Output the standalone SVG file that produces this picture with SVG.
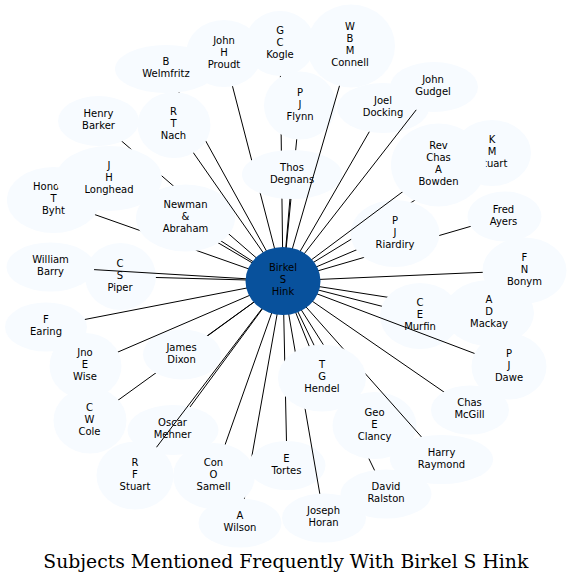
<svg xmlns="http://www.w3.org/2000/svg" width="571" height="584" viewBox="0 0 571 584">
<style>
.nb{fill:#f7fbff}
.cb{fill:#08519c}
.t{font-family:"DejaVu Sans",sans-serif;font-size:10px;fill:#000;text-anchor:middle}
.e{stroke:#000;stroke-width:1;fill:none}
.title{font-family:"DejaVu Serif",serif;font-size:18.5px;fill:#000;text-anchor:middle}
</style>
<defs>
<ellipse id="s-center" cx="283" cy="281" rx="37.5" ry="34"/>
<ellipse id="s-welm" cx="166" cy="69" rx="51" ry="24"/>
<ellipse id="s-proudt" cx="224" cy="53.5" rx="38" ry="33.5"/>
<ellipse id="s-kogle" cx="280" cy="43.5" rx="35" ry="32.5"/>
<ellipse id="s-connell" cx="351" cy="46" rx="44" ry="41.5"/>
<ellipse id="s-flynn" cx="300" cy="105.5" rx="36" ry="34"/>
<ellipse id="s-docking" cx="383" cy="108" rx="46" ry="25"/>
<ellipse id="s-gudgel" cx="434" cy="87" rx="44" ry="25"/>
<ellipse id="s-barker" cx="98.5" cy="121" rx="40.5" ry="25"/>
<ellipse id="s-nach" cx="174" cy="125" rx="36.5" ry="33"/>
<ellipse id="s-degnans" cx="292" cy="174.5" rx="50" ry="24.5"/>
<ellipse id="s-bowden" cx="438.5" cy="165" rx="47.5" ry="41.5"/>
<ellipse id="s-kmstuart" cx="492" cy="153" rx="39" ry="33"/>
<ellipse id="s-longhead" cx="109" cy="178.5" rx="53" ry="32.5"/>
<ellipse id="s-byht" cx="53.5" cy="200" rx="46.5" ry="33"/>
<ellipse id="s-newman" cx="185.5" cy="218" rx="49.5" ry="33.5"/>
<ellipse id="s-riardiry" cx="395" cy="233.5" rx="44.5" ry="33.5"/>
<ellipse id="s-ayers" cx="504.5" cy="216.5" rx="37" ry="25"/>
<ellipse id="s-wbarry" cx="50.5" cy="267" rx="44" ry="24.5"/>
<ellipse id="s-piper" cx="120.5" cy="276.5" rx="35.5" ry="33.5"/>
<ellipse id="s-bonym" cx="524.5" cy="270.5" rx="42" ry="33"/>
<ellipse id="s-earing" cx="46" cy="327" rx="41" ry="24.5"/>
<ellipse id="s-murfin" cx="420" cy="316" rx="40" ry="33"/>
<ellipse id="s-mackay" cx="489" cy="313" rx="45" ry="33"/>
<ellipse id="s-dixon" cx="182" cy="354.5" rx="39" ry="25"/>
<ellipse id="s-wise" cx="85.5" cy="366" rx="36" ry="33"/>
<ellipse id="s-hendel" cx="322" cy="378" rx="44" ry="33.5"/>
<ellipse id="s-dawe" cx="509" cy="366.5" rx="37.5" ry="33"/>
<ellipse id="s-cole" cx="90" cy="420.5" rx="36.5" ry="33"/>
<ellipse id="s-oscar" cx="173" cy="430" rx="45.5" ry="25"/>
<ellipse id="s-clancy" cx="374.5" cy="425.5" rx="42" ry="33.5"/>
<ellipse id="s-mcgill" cx="470" cy="410" rx="39" ry="24.5"/>
<ellipse id="s-rfstuart" cx="135" cy="475.5" rx="38.5" ry="34"/>
<ellipse id="s-samell" cx="214" cy="476" rx="41" ry="33"/>
<ellipse id="s-tortes" cx="287" cy="465.5" rx="38.5" ry="24.5"/>
<ellipse id="s-raymond" cx="441.5" cy="459.5" rx="51.5" ry="24.5"/>
<ellipse id="s-ralston" cx="386" cy="494" rx="45.5" ry="24.5"/>
<ellipse id="s-wilson" cx="240" cy="523" rx="41.5" ry="24.5"/>
<ellipse id="s-horan" cx="324" cy="518" rx="42" ry="24.5"/>

<mask id="m-welm" maskUnits="userSpaceOnUse" x="0" y="0" width="571" height="584"><rect width="571" height="584" fill="#fff"/><use href="#s-welm" fill="#000"/><use href="#s-nach" fill="#000"/></mask>
<mask id="m-proudt" maskUnits="userSpaceOnUse" x="0" y="0" width="571" height="584"><rect width="571" height="584" fill="#fff"/><use href="#s-proudt" fill="#000"/><use href="#s-degnans" fill="#000"/></mask>
<mask id="m-kogle" maskUnits="userSpaceOnUse" x="0" y="0" width="571" height="584"><rect width="571" height="584" fill="#fff"/><use href="#s-kogle" fill="#000"/><use href="#s-flynn" fill="#000"/><use href="#s-degnans" fill="#000"/></mask>
<mask id="m-connell" maskUnits="userSpaceOnUse" x="0" y="0" width="571" height="584"><rect width="571" height="584" fill="#fff"/><use href="#s-connell" fill="#000"/></mask>
<mask id="m-flynn" maskUnits="userSpaceOnUse" x="0" y="0" width="571" height="584"><rect width="571" height="584" fill="#fff"/><use href="#s-flynn" fill="#000"/><use href="#s-degnans" fill="#000"/></mask>
<mask id="m-degnans" maskUnits="userSpaceOnUse" x="0" y="0" width="571" height="584"><rect width="571" height="584" fill="#fff"/><use href="#s-degnans" fill="#000"/></mask>
<mask id="m-docking" maskUnits="userSpaceOnUse" x="0" y="0" width="571" height="584"><rect width="571" height="584" fill="#fff"/><use href="#s-docking" fill="#000"/></mask>
<mask id="m-gudgel" maskUnits="userSpaceOnUse" x="0" y="0" width="571" height="584"><rect width="571" height="584" fill="#fff"/><use href="#s-gudgel" fill="#000"/></mask>
<mask id="m-bowden" maskUnits="userSpaceOnUse" x="0" y="0" width="571" height="584"><rect width="571" height="584" fill="#fff"/><use href="#s-bowden" fill="#000"/></mask>
<mask id="m-kmstuart" maskUnits="userSpaceOnUse" x="0" y="0" width="571" height="584"><rect width="571" height="584" fill="#fff"/><use href="#s-kmstuart" fill="#000"/><use href="#s-bowden" fill="#000"/><use href="#s-riardiry" fill="#000"/></mask>
<mask id="m-ayers" maskUnits="userSpaceOnUse" x="0" y="0" width="571" height="584"><rect width="571" height="584" fill="#fff"/><use href="#s-ayers" fill="#000"/><use href="#s-riardiry" fill="#000"/></mask>
<mask id="m-riardiry" maskUnits="userSpaceOnUse" x="0" y="0" width="571" height="584"><rect width="571" height="584" fill="#fff"/><use href="#s-riardiry" fill="#000"/></mask>
<mask id="m-bonym" maskUnits="userSpaceOnUse" x="0" y="0" width="571" height="584"><rect width="571" height="584" fill="#fff"/><use href="#s-bonym" fill="#000"/></mask>
<mask id="m-mackay" maskUnits="userSpaceOnUse" x="0" y="0" width="571" height="584"><rect width="571" height="584" fill="#fff"/><use href="#s-mackay" fill="#000"/><use href="#s-murfin" fill="#000"/></mask>
<mask id="m-murfin" maskUnits="userSpaceOnUse" x="0" y="0" width="571" height="584"><rect width="571" height="584" fill="#fff"/><use href="#s-murfin" fill="#000"/></mask>
<mask id="m-dawe" maskUnits="userSpaceOnUse" x="0" y="0" width="571" height="584"><rect width="571" height="584" fill="#fff"/><use href="#s-dawe" fill="#000"/></mask>
<mask id="m-mcgill" maskUnits="userSpaceOnUse" x="0" y="0" width="571" height="584"><rect width="571" height="584" fill="#fff"/><use href="#s-mcgill" fill="#000"/></mask>
<mask id="m-raymond" maskUnits="userSpaceOnUse" x="0" y="0" width="571" height="584"><rect width="571" height="584" fill="#fff"/><use href="#s-raymond" fill="#000"/><use href="#s-hendel" fill="#000"/></mask>
<mask id="m-clancy" maskUnits="userSpaceOnUse" x="0" y="0" width="571" height="584"><rect width="571" height="584" fill="#fff"/><use href="#s-clancy" fill="#000"/><use href="#s-hendel" fill="#000"/></mask>
<mask id="m-ralston" maskUnits="userSpaceOnUse" x="0" y="0" width="571" height="584"><rect width="571" height="584" fill="#fff"/><use href="#s-ralston" fill="#000"/><use href="#s-hendel" fill="#000"/><use href="#s-clancy" fill="#000"/></mask>
<mask id="m-hendel" maskUnits="userSpaceOnUse" x="0" y="0" width="571" height="584"><rect width="571" height="584" fill="#fff"/><use href="#s-hendel" fill="#000"/></mask>
<mask id="m-horan" maskUnits="userSpaceOnUse" x="0" y="0" width="571" height="584"><rect width="571" height="584" fill="#fff"/><use href="#s-horan" fill="#000"/><use href="#s-hendel" fill="#000"/></mask>
<mask id="m-tortes" maskUnits="userSpaceOnUse" x="0" y="0" width="571" height="584"><rect width="571" height="584" fill="#fff"/><use href="#s-tortes" fill="#000"/><use href="#s-hendel" fill="#000"/></mask>
<mask id="m-wilson" maskUnits="userSpaceOnUse" x="0" y="0" width="571" height="584"><rect width="571" height="584" fill="#fff"/><use href="#s-wilson" fill="#000"/><use href="#s-tortes" fill="#000"/><use href="#s-samell" fill="#000"/></mask>
<mask id="m-samell" maskUnits="userSpaceOnUse" x="0" y="0" width="571" height="584"><rect width="571" height="584" fill="#fff"/><use href="#s-samell" fill="#000"/></mask>
<mask id="m-rfstuart" maskUnits="userSpaceOnUse" x="0" y="0" width="571" height="584"><rect width="571" height="584" fill="#fff"/><use href="#s-rfstuart" fill="#000"/></mask>
<mask id="m-oscar" maskUnits="userSpaceOnUse" x="0" y="0" width="571" height="584"><rect width="571" height="584" fill="#fff"/><use href="#s-oscar" fill="#000"/></mask>
<mask id="m-cole" maskUnits="userSpaceOnUse" x="0" y="0" width="571" height="584"><rect width="571" height="584" fill="#fff"/><use href="#s-cole" fill="#000"/><use href="#s-dixon" fill="#000"/></mask>
<mask id="m-dixon" maskUnits="userSpaceOnUse" x="0" y="0" width="571" height="584"><rect width="571" height="584" fill="#fff"/><use href="#s-dixon" fill="#000"/></mask>
<mask id="m-wise" maskUnits="userSpaceOnUse" x="0" y="0" width="571" height="584"><rect width="571" height="584" fill="#fff"/><use href="#s-wise" fill="#000"/></mask>
<mask id="m-earing" maskUnits="userSpaceOnUse" x="0" y="0" width="571" height="584"><rect width="571" height="584" fill="#fff"/><use href="#s-earing" fill="#000"/></mask>
<mask id="m-piper" maskUnits="userSpaceOnUse" x="0" y="0" width="571" height="584"><rect width="571" height="584" fill="#fff"/><use href="#s-piper" fill="#000"/></mask>
<mask id="m-wbarry" maskUnits="userSpaceOnUse" x="0" y="0" width="571" height="584"><rect width="571" height="584" fill="#fff"/><use href="#s-wbarry" fill="#000"/></mask>
<mask id="m-byht" maskUnits="userSpaceOnUse" x="0" y="0" width="571" height="584"><rect width="571" height="584" fill="#fff"/><use href="#s-byht" fill="#000"/><use href="#s-newman" fill="#000"/></mask>
<mask id="m-longhead" maskUnits="userSpaceOnUse" x="0" y="0" width="571" height="584"><rect width="571" height="584" fill="#fff"/><use href="#s-longhead" fill="#000"/><use href="#s-newman" fill="#000"/></mask>
<mask id="m-newman" maskUnits="userSpaceOnUse" x="0" y="0" width="571" height="584"><rect width="571" height="584" fill="#fff"/><use href="#s-newman" fill="#000"/></mask>
<mask id="m-barker" maskUnits="userSpaceOnUse" x="0" y="0" width="571" height="584"><rect width="571" height="584" fill="#fff"/><use href="#s-barker" fill="#000"/><use href="#s-longhead" fill="#000"/><use href="#s-newman" fill="#000"/></mask>
<mask id="m-nach" maskUnits="userSpaceOnUse" x="0" y="0" width="571" height="584"><rect width="571" height="584" fill="#fff"/><use href="#s-nach" fill="#000"/></mask>
</defs>

<rect width="571" height="584" fill="#fff"/>

<g id="nodes">
<g id="n-byht"><use href="#s-byht" class="nb"/><text class="t"><tspan x="33" y="190" style="text-anchor:start">Hono</tspan><tspan x="53.5" y="202">T</tspan><tspan x="53.5" y="214">Byht</tspan></text></g>
<g id="n-barker"><use href="#s-barker" class="nb"/><text class="t"><tspan x="98.5" y="117">Henry</tspan><tspan x="98.5" y="129">Barker</tspan></text></g>
<g id="n-longhead"><use href="#s-longhead" class="nb"/><text class="t"><tspan x="109" y="168.5">J</tspan><tspan x="109" y="180.5">H</tspan><tspan x="109" y="192.5">Longhead</tspan></text></g>
<g id="n-newman"><use href="#s-newman" class="nb"/><text class="t"><tspan x="185.5" y="208">Newman</tspan><tspan x="185.5" y="220">&amp;</tspan><tspan x="185.5" y="232">Abraham</tspan></text></g>
<g id="n-welm"><use href="#s-welm" class="nb"/><text class="t"><tspan x="166" y="65">B</tspan><tspan x="166" y="77">Welmfritz</tspan></text></g>
<g id="n-nach"><use href="#s-nach" class="nb"/><text class="t"><tspan x="173.5" y="115">R</tspan><tspan x="173.5" y="127">T</tspan><tspan x="173.5" y="139">Nach</tspan></text></g>
<g id="n-kogle"><use href="#s-kogle" class="nb"/><text class="t"><tspan x="280" y="33.5">G</tspan><tspan x="280" y="45.5">C</tspan><tspan x="280" y="57.5">Kogle</tspan></text></g>
<g id="n-proudt"><use href="#s-proudt" class="nb"/><text class="t"><tspan x="224" y="43.5">John</tspan><tspan x="224" y="55.5">H</tspan><tspan x="224" y="67.5">Proudt</tspan></text></g>
<g id="n-flynn"><use href="#s-flynn" class="nb"/><text class="t"><tspan x="300" y="95.5">P</tspan><tspan x="300" y="107.5">J</tspan><tspan x="300" y="119.5">Flynn</tspan></text></g>
<g id="n-degnans"><use href="#s-degnans" class="nb"/><text class="t"><tspan x="292" y="170.5">Thos</tspan><tspan x="292" y="182.5">Degnans</tspan></text></g>
<g id="n-connell"><use href="#s-connell" class="nb"/><text class="t"><tspan x="350" y="30">W</tspan><tspan x="350" y="42">B</tspan><tspan x="350" y="54">M</tspan><tspan x="350" y="66">Connell</tspan></text></g>
<g id="n-docking"><use href="#s-docking" class="nb"/><text class="t"><tspan x="383" y="104">Joel</tspan><tspan x="383" y="116">Docking</tspan></text></g>
<g id="n-gudgel"><use href="#s-gudgel" class="nb"/><text class="t"><tspan x="433" y="83">John</tspan><tspan x="433" y="95">Gudgel</tspan></text></g>
<g id="n-kmstuart"><use href="#s-kmstuart" class="nb"/><text class="t"><tspan x="492" y="143">K</tspan><tspan x="492" y="155">M</tspan><tspan x="492" y="167">Stuart</tspan></text></g>
<g id="n-ayers"><use href="#s-ayers" class="nb"/><text class="t"><tspan x="503.5" y="212.5">Fred</tspan><tspan x="503.5" y="224.5">Ayers</tspan></text></g>
<g id="n-riardiry"><use href="#s-riardiry" class="nb"/><text class="t"><tspan x="395" y="223.5">P</tspan><tspan x="395" y="235.5">J</tspan><tspan x="395" y="247.5">Riardiry</tspan></text></g>
<g id="n-bowden"><use href="#s-bowden" class="nb"/><text class="t"><tspan x="438.5" y="149">Rev</tspan><tspan x="438.5" y="161">Chas</tspan><tspan x="438.5" y="173">A</tspan><tspan x="438.5" y="185">Bowden</tspan></text></g>
<g id="n-piper"><use href="#s-piper" class="nb"/><text class="t"><tspan x="120" y="266.5">C</tspan><tspan x="120" y="278.5">S</tspan><tspan x="120" y="290.5">Piper</tspan></text></g>
<g id="n-wbarry"><use href="#s-wbarry" class="nb"/><text class="t"><tspan x="50.5" y="263">William</tspan><tspan x="50.5" y="275">Barry</tspan></text></g>
<g id="n-earing"><use href="#s-earing" class="nb"/><text class="t"><tspan x="46" y="323">F</tspan><tspan x="46" y="335">Earing</tspan></text></g>
<g id="n-mackay"><use href="#s-mackay" class="nb"/><text class="t"><tspan x="489" y="303">A</tspan><tspan x="489" y="315">D</tspan><tspan x="489" y="327">Mackay</tspan></text></g>
<g id="n-murfin"><use href="#s-murfin" class="nb"/><text class="t"><tspan x="420" y="306">C</tspan><tspan x="420" y="318">E</tspan><tspan x="420" y="330">Murfin</tspan></text></g>
<g id="n-dawe"><use href="#s-dawe" class="nb"/><text class="t"><tspan x="509" y="356.5">P</tspan><tspan x="509" y="368.5">J</tspan><tspan x="509" y="380.5">Dawe</tspan></text></g>
<g id="n-bonym"><use href="#s-bonym" class="nb"/><text class="t"><tspan x="524.5" y="260.5">F</tspan><tspan x="524.5" y="272.5">N</tspan><tspan x="524.5" y="284.5">Bonym</tspan></text></g>
<g id="n-cole"><use href="#s-cole" class="nb"/><text class="t"><tspan x="89.5" y="410.5">C</tspan><tspan x="89.5" y="422.5">W</tspan><tspan x="89.5" y="434.5">Cole</tspan></text></g>
<g id="n-dixon"><use href="#s-dixon" class="nb"/><text class="t"><tspan x="181.5" y="350.5">James</tspan><tspan x="181.5" y="362.5">Dixon</tspan></text></g>
<g id="n-wise"><use href="#s-wise" class="nb"/><text class="t"><tspan x="85" y="356">Jno</tspan><tspan x="85" y="368">E</tspan><tspan x="85" y="380">Wise</tspan></text></g>
<g id="n-oscar"><use href="#s-oscar" class="nb"/><text class="t"><tspan x="172.5" y="426">Oscar</tspan><tspan x="172.5" y="438">Mehner</tspan></text></g>
<g id="n-rfstuart"><use href="#s-rfstuart" class="nb"/><text class="t"><tspan x="135" y="465.5">R</tspan><tspan x="135" y="477.5">F</tspan><tspan x="135" y="489.5">Stuart</tspan></text></g>
<g id="n-wilson"><use href="#s-wilson" class="nb"/><text class="t"><tspan x="240" y="519">A</tspan><tspan x="240" y="531">Wilson</tspan></text></g>
<g id="n-samell"><use href="#s-samell" class="nb"/><text class="t"><tspan x="213.5" y="466">Con</tspan><tspan x="213.5" y="478">O</tspan><tspan x="213.5" y="490">Samell</tspan></text></g>
<g id="n-tortes"><use href="#s-tortes" class="nb"/><text class="t"><tspan x="286.5" y="461.5">E</tspan><tspan x="286.5" y="473.5">Tortes</tspan></text></g>
<g id="n-horan"><use href="#s-horan" class="nb"/><text class="t"><tspan x="323.5" y="514">Joseph</tspan><tspan x="323.5" y="526">Horan</tspan></text></g>
<g id="n-ralston"><use href="#s-ralston" class="nb"/><text class="t"><tspan x="386" y="490">David</tspan><tspan x="386" y="502">Ralston</tspan></text></g>
<g id="n-clancy"><use href="#s-clancy" class="nb"/><text class="t"><tspan x="374.5" y="415.5">Geo</tspan><tspan x="374.5" y="427.5">E</tspan><tspan x="374.5" y="439.5">Clancy</tspan></text></g>
<g id="n-raymond"><use href="#s-raymond" class="nb"/><text class="t"><tspan x="441.5" y="455.5">Harry</tspan><tspan x="441.5" y="467.5">Raymond</tspan></text></g>
<g id="n-hendel"><use href="#s-hendel" class="nb"/><text class="t"><tspan x="322" y="368">T</tspan><tspan x="322" y="380">G</tspan><tspan x="322" y="392">Hendel</tspan></text></g>
<g id="n-mcgill"><use href="#s-mcgill" class="nb"/><text class="t"><tspan x="469.5" y="406">Chas</tspan><tspan x="469.5" y="418">McGill</tspan></text></g>
</g>

<g id="edges">
<line class="e" x1="283" y1="281" x2="166" y2="69" mask="url(#m-welm)"/>
<line class="e" x1="283" y1="281" x2="224" y2="53.5" mask="url(#m-proudt)"/>
<line class="e" x1="283" y1="281" x2="280" y2="43.5" mask="url(#m-kogle)"/>
<line class="e" x1="283" y1="281" x2="351" y2="46" mask="url(#m-connell)"/>
<line class="e" x1="283" y1="281" x2="300" y2="105.5" mask="url(#m-flynn)"/>
<line class="e" x1="283" y1="281" x2="292" y2="174.5" mask="url(#m-degnans)"/>
<line class="e" x1="283" y1="281" x2="383" y2="108" mask="url(#m-docking)"/>
<line class="e" x1="283" y1="281" x2="434" y2="87" mask="url(#m-gudgel)"/>
<line class="e" x1="283" y1="281" x2="438.5" y2="165" mask="url(#m-bowden)"/>
<line class="e" x1="283" y1="281" x2="492" y2="153" mask="url(#m-kmstuart)"/>
<line class="e" x1="283" y1="281" x2="504.5" y2="216.5" mask="url(#m-ayers)"/>
<line class="e" x1="283" y1="281" x2="395" y2="233.5" mask="url(#m-riardiry)"/>
<line class="e" x1="283" y1="281" x2="524.5" y2="270.5" mask="url(#m-bonym)"/>
<line class="e" x1="283" y1="281" x2="489" y2="313" mask="url(#m-mackay)"/>
<line class="e" x1="283" y1="281" x2="420" y2="316" mask="url(#m-murfin)"/>
<line class="e" x1="283" y1="281" x2="509" y2="366.5" mask="url(#m-dawe)"/>
<line class="e" x1="283" y1="281" x2="470" y2="410" mask="url(#m-mcgill)"/>
<line class="e" x1="283" y1="281" x2="441.5" y2="459.5" mask="url(#m-raymond)"/>
<line class="e" x1="283" y1="281" x2="374.5" y2="425.5" mask="url(#m-clancy)"/>
<line class="e" x1="283" y1="281" x2="386" y2="494" mask="url(#m-ralston)"/>
<line class="e" x1="283" y1="281" x2="322" y2="378" mask="url(#m-hendel)"/>
<line class="e" x1="283" y1="281" x2="324" y2="518" mask="url(#m-horan)"/>
<line class="e" x1="283" y1="281" x2="287" y2="465.5" mask="url(#m-tortes)"/>
<line class="e" x1="283" y1="281" x2="240" y2="523" mask="url(#m-wilson)"/>
<line class="e" x1="283" y1="281" x2="214" y2="476" mask="url(#m-samell)"/>
<line class="e" x1="283" y1="281" x2="135" y2="475.5" mask="url(#m-rfstuart)"/>
<line class="e" x1="283" y1="281" x2="173" y2="430" mask="url(#m-oscar)"/>
<line class="e" x1="283" y1="281" x2="90" y2="420.5" mask="url(#m-cole)"/>
<line class="e" x1="283" y1="281" x2="182" y2="354.5" mask="url(#m-dixon)"/>
<line class="e" x1="283" y1="281" x2="85.5" y2="366" mask="url(#m-wise)"/>
<line class="e" x1="283" y1="281" x2="46" y2="327" mask="url(#m-earing)"/>
<line class="e" x1="283" y1="281" x2="120.5" y2="276.5" mask="url(#m-piper)"/>
<line class="e" x1="283" y1="281" x2="50.5" y2="267" mask="url(#m-wbarry)"/>
<line class="e" x1="283" y1="281" x2="53.5" y2="200" mask="url(#m-byht)"/>
<line class="e" x1="283" y1="281" x2="109" y2="178.5" mask="url(#m-longhead)"/>
<line class="e" x1="283" y1="281" x2="185.5" y2="218" mask="url(#m-newman)"/>
<line class="e" x1="283" y1="281" x2="98.5" y2="121" mask="url(#m-barker)"/>
<line class="e" x1="283" y1="281" x2="174" y2="125" mask="url(#m-nach)"/>
</g>

<g id="n-center"><use href="#s-center" class="cb"/><text class="t"><tspan x="283" y="271">Birkel</tspan><tspan x="283" y="283">S</tspan><tspan x="283" y="295">Hink</tspan></text></g>

<text id="title" class="title" x="285.8" y="567.5" textLength="485" lengthAdjust="spacingAndGlyphs">Subjects Mentioned Frequently With Birkel S Hink</text>
</svg>
